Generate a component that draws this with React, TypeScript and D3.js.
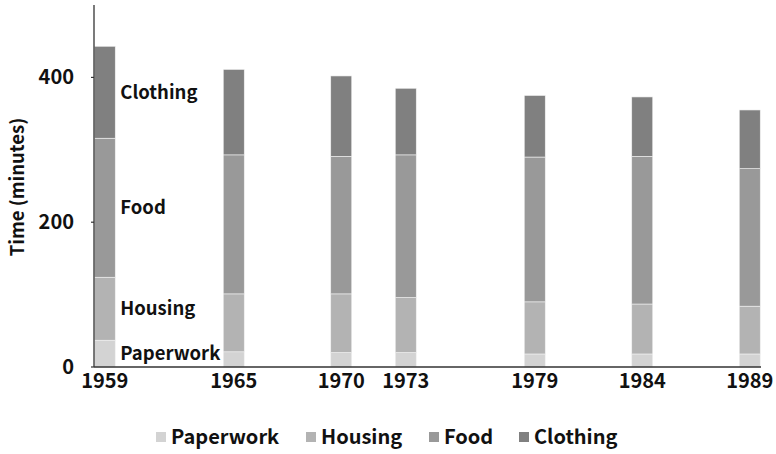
import React from 'react';
import * as d3 from 'd3';

// Survey years and minutes per category
const years = [1959, 1965, 1970, 1973, 1979, 1984, 1989];
const categories = ['Paperwork', 'Housing', 'Food', 'Clothing'];
const paperwork = [37, 21, 20, 20, 18, 18, 18];
const housing = [87, 80, 81, 76, 72, 69, 66];
const food = [192, 192, 190, 197, 200, 204, 190];
const clothing = [127, 118, 111, 92, 85, 82, 81];
const yTicks = [0, 200, 400];
const colors = ['#d3d3d3', '#b3b3b3', '#999999', '#808080'];

const seriesValues: Record<string, number[]> = {
  Paperwork: paperwork,
  Housing: housing,
  Food: food,
  Clothing: clothing,
};

const W = 776;
const H = 454;
const FONT = '"Noto Sans CJK JP", "Noto Sans", sans-serif';

export default function App() {
  const rows = years.map((year, i) => {
    const r: any = { year };
    categories.forEach(c => (r[c] = seriesValues[c][i]));
    return r;
  });
  const stacked = d3.stack<any>().keys(categories)(rows);

  const x = d3.scaleLinear().domain([1958.5, 1989.5]).range([94, 760.5]);
  const y = d3.scaleLinear().domain([0, 500]).range([367, 5]);
  const barW = x(1959.5) - x(1958.5) - 0.5;

  return (
    <svg
      width={W}
      height={H}
      style={{ position: 'absolute', left: 0, top: 0, fontFamily: FONT }}
    >
      <rect width={W} height={H} fill="#fff" />

      {/* Stacked bars */}
      {stacked.map((layer, li) => (
        <g key={layer.key} fill={colors[li]}>
          {layer.map((d, i) => (
            <rect
              key={i}
              x={x(years[i]) - barW / 2}
              y={y(d[1])}
              width={barW}
              height={y(d[0]) - y(d[1])}
              stroke="#f2f2f2"
              strokeWidth={0.6}
            />
          ))}
        </g>
      ))}

      {/* In-chart labels next to the first bar */}
      {stacked.map(layer => {
        const d = layer[0];
        return (
          <text
            key={layer.key}
            x={x(years[0]) + barW / 2 + 5}
            y={y((d[0] + d[1]) / 2)}
            dy="0.35em"
            fontSize={18.5}
            fontWeight="bold"
            fill="#111"
          >
            {layer.key}
          </text>
        );
      })}

      {/* Y axis */}
      <line x1={94} x2={94} y1={y(500)} y2={y(0)} stroke="#333" strokeWidth={1.3} />
      {yTicks.map(t => (
        <g key={t}>
          <line x1={91} x2={94} y1={y(t)} y2={y(t)} stroke="#333" strokeWidth={1.2} />
          <text
            x={74}
            y={y(t)}
            dy="0.35em"
            textAnchor="end"
            fontSize={20}
            fontWeight="bold"
            fill="#111"
          >
            {t}
          </text>
        </g>
      ))}
      <text
        transform={`translate(18,${y(250) + 1}) rotate(-90)`}
        textAnchor="middle"
        dy="0.35em"
        fontSize={18.5}
        fontWeight="bold"
        fill="#111"
      >
        Time (minutes)
      </text>

      {/* X axis */}
      <line x1={94} x2={761} y1={y(0)} y2={y(0)} stroke="#333" strokeWidth={1.3} />
      {years.map(yr => (
        <text
          key={yr}
          x={x(yr)}
          y={381}
          dy="0.35em"
          textAnchor="middle"
          fontSize={20}
          fontWeight="bold"
          fill="#111"
        >
          {yr}
        </text>
      ))}

      {/* Legend */}
      {categories.map((c, i) => {
        const lx = [156, 306, 429, 519][i];
        return (
          <g key={c}>
            <rect x={lx} y={432} width={10} height={10} fill={colors[i]} />
            <text
              x={lx + 15}
              y={437}
              dy="0.35em"
              fontSize={20}
              fontWeight="bold"
              fill="#111"
            >
              {c}
            </text>
          </g>
        );
      })}
    </svg>
  );
}
